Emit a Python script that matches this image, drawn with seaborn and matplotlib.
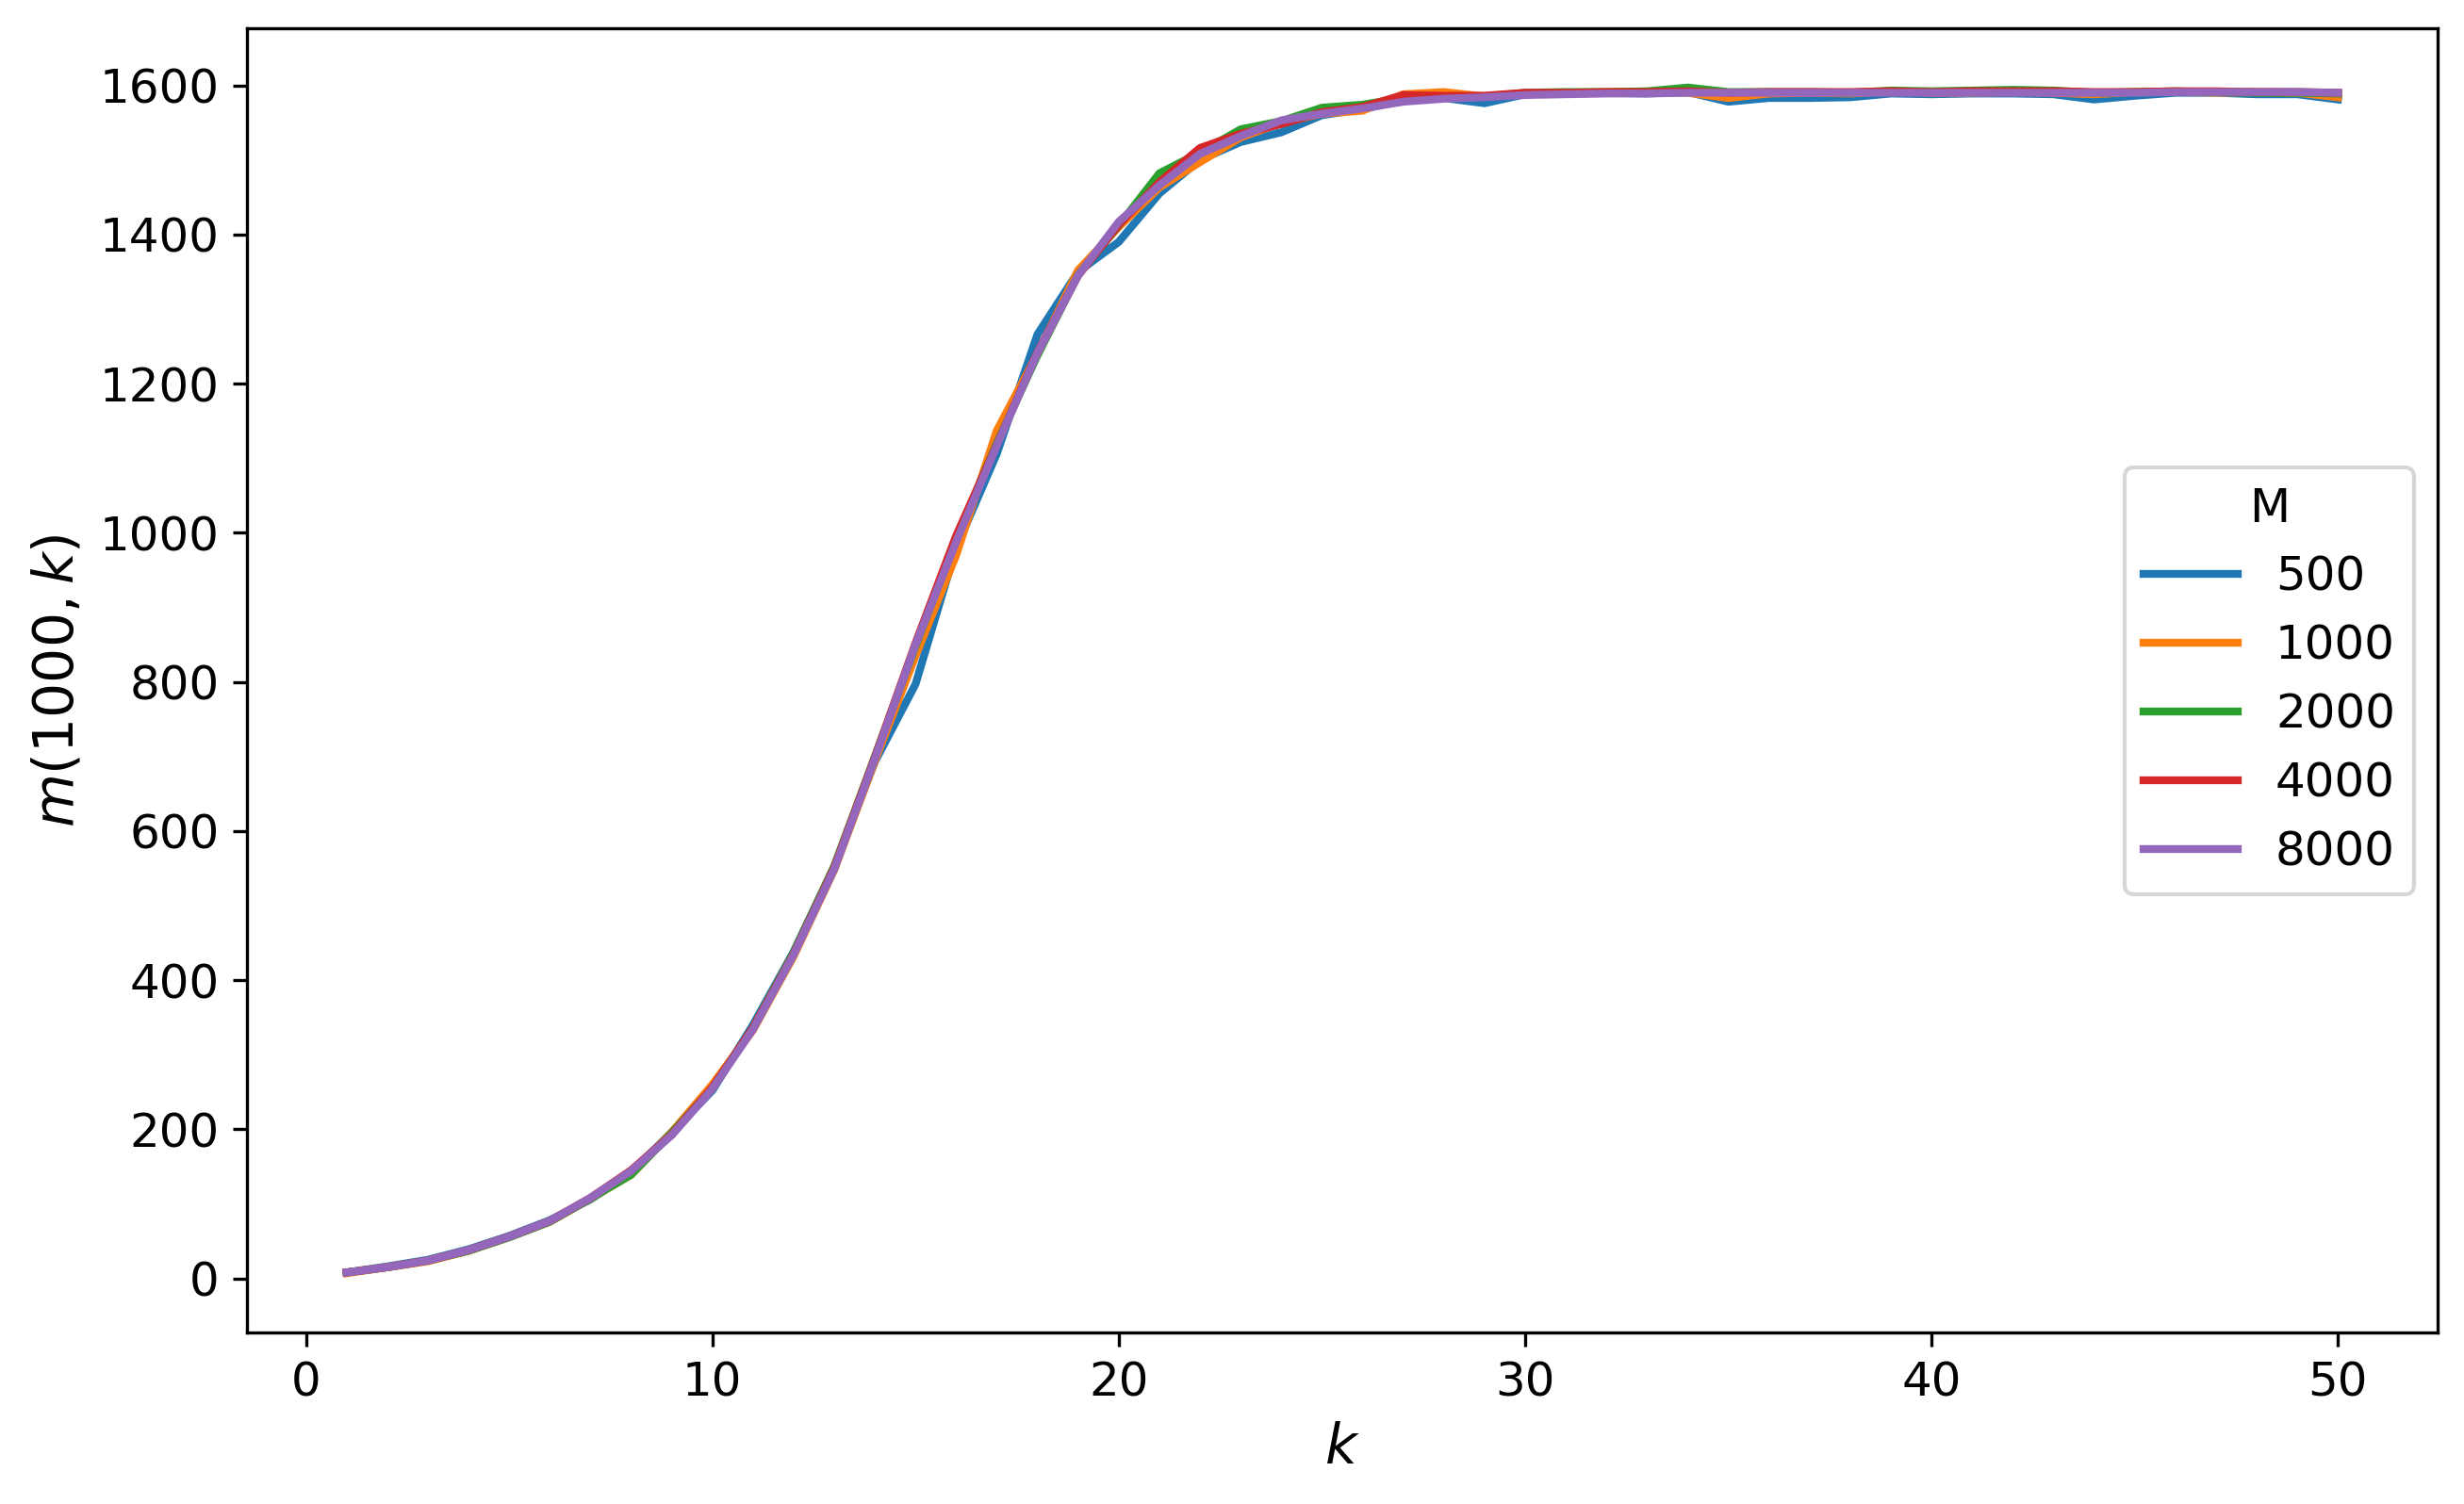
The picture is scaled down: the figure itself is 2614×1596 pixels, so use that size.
import pandas as pd
import matplotlib
matplotlib.use('Agg')
import matplotlib.pyplot as plt
import seaborn as sns

# values, k = 1..50
k_values = list(range(1, 51))
m_labels = ['500', '1000', '2000', '4000', '8000']

m500 = [8, 16, 25, 39, 57, 78, 106, 142, 196, 252, 340, 438, 552, 693, 797, 980, 1106, 1266, 1350, 1390,
        1455, 1500, 1524, 1537, 1560, 1568, 1580, 1583, 1576, 1588, 1589, 1590, 1589, 1591, 1578, 1583, 1583,
        1584, 1589, 1588, 1589, 1589, 1588, 1581, 1586, 1590, 1590, 1588, 1588, 1581]
m1000 = [7, 15, 23, 37, 56, 76, 107, 139, 196, 260, 333, 432, 548, 694, 835, 970, 1137, 1240, 1352, 1410,
         1463, 1497, 1530, 1550, 1562, 1566, 1588, 1591, 1585, 1589, 1590, 1590, 1591, 1590, 1583, 1589, 1590,
         1589, 1592, 1590, 1590, 1591, 1590, 1588, 1591, 1592, 1590, 1591, 1590, 1584]
m2000 = [8, 15, 24, 37, 55, 76, 107, 139, 195, 255, 336, 437, 553, 700, 848, 992, 1120, 1238, 1346, 1412,
         1482, 1510, 1541, 1552, 1570, 1574, 1583, 1583, 1585, 1590, 1591, 1591, 1592, 1597, 1591, 1591, 1591,
         1590, 1593, 1592, 1593, 1594, 1593, 1590, 1591, 1592, 1591, 1590, 1590, 1589]
m4000 = [8, 15, 24, 38, 56, 77, 108, 145, 193, 256, 336, 435, 551, 699, 852, 996, 1118, 1242, 1345, 1413,
         1470, 1516, 1535, 1548, 1564, 1571, 1587, 1586, 1586, 1590, 1590, 1591, 1591, 1592, 1590, 1591, 1591,
         1591, 1592, 1591, 1592, 1592, 1592, 1591, 1591, 1592, 1592, 1591, 1591, 1590]
m8000 = [8, 15, 24, 38, 56, 77, 108, 144, 192, 254, 334, 434, 549, 697, 850, 988, 1117, 1241, 1345, 1417,
         1466, 1508, 1532, 1553, 1562, 1569, 1578, 1582, 1584, 1587, 1588, 1589, 1589, 1590, 1590, 1590, 1590,
         1590, 1590, 1590, 1590, 1590, 1590, 1590, 1590, 1591, 1591, 1591, 1591, 1590]

series = [m500, m1000, m2000, m4000, m8000]

# long format for seaborn
rows = []
for label, vals in zip(m_labels, series):
    for k, v in zip(k_values, vals):
        rows.append({'k': k, 'M': label, 'm': v})
df = pd.DataFrame(rows)

fig = plt.figure(figsize=(2614 / 300, 1596 / 300), dpi=300)
ax = fig.add_axes([262 / 2614, 1 - 1414 / 1596, (2586 - 262) / 2614, (1414 - 30) / 1596])

sns.lineplot(data=df, x='k', y='m', hue='M', hue_order=m_labels, palette='tab10',
             linewidth=2, ax=ax)

ax.set_xlabel('$k$', fontsize=14)
ax.set_ylabel('$m(1000,k)$', fontsize=14)
ax.tick_params(labelsize=12)
ax.legend(title='M', loc='center right', fontsize=12, title_fontsize=12)

fig.savefig('out.png', dpi=300)
plt.close(fig)
